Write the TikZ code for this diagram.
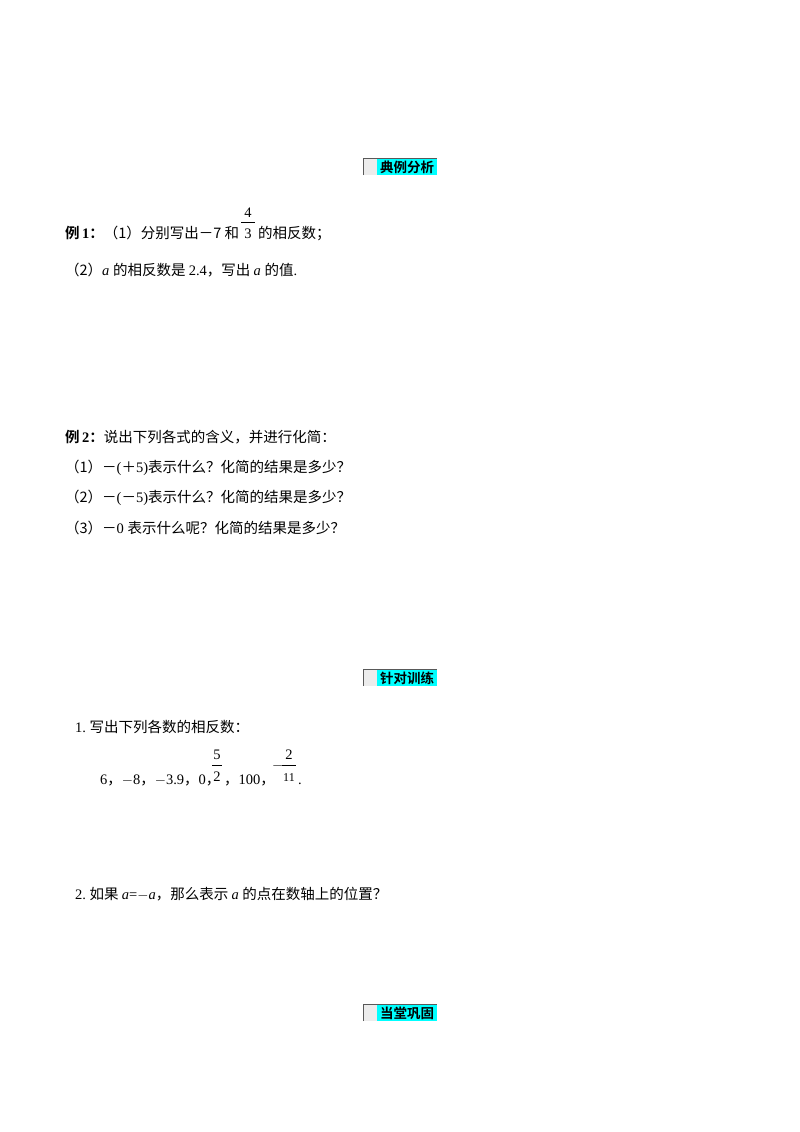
\documentclass[tikz,border=0pt]{standalone}
\usepackage{fontspec}
\setmainfont{Liberation Serif}
\newfontfamily\cjk{Noto Sans CJK SC}
\newfontfamily\cjkb{Noto Sans CJK SC Bold}
\definecolor{hcyan}{RGB}{0,255,255}
\begin{document}
\begin{tikzpicture}[x=1pt,y=-1pt,
  txt/.style={anchor=base west,inner sep=0pt,font=\fontsize{14.5}{16}\selectfont},
  fr/.style={anchor=base,inner sep=0pt,font=\fontsize{14.5}{16}\selectfont}]
\useasboundingbox (0,0) rectangle (800,1132);
\tikzset{hdr/.pic={
  \fill[gray!15] (0,0) rectangle (14,17);
  \fill[hcyan] (14,0) rectangle (74,17);
  \draw[gray!70!black,line width=0.8pt] (0,17) -- (0,0) -- (74,0);
}}
\foreach \y/\t [count=\i] in {158/典例分析,669/针对训练,1004/当堂巩固}{
  \pic at (363,\y) {hdr};
  \node[anchor=center,inner sep=0pt,font=\cjkb\fontsize{13.5}{14}\selectfont] (h\i) at (407,\y+9) {\t};
}
\node[txt] (e1) at (65,238) {{\cjkb 例\,}{\bfseries 1}{\cjkb：}\cjk（1）分别写出－7 和};
\node[fr] (n4) at (248,217) {4};
\draw (241,222) -- (255,222);
\node[fr] (d3) at (248,238) {3};
\node[txt] (e1b) at (258,238) {\cjk 的相反数；};
\node[txt] (e2) at (65,275) {\cjk（2）\rmfamily\itshape a \cjk\upshape 的相反数是 \rmfamily 2.4\cjk，写出 \rmfamily\itshape a \cjk\upshape 的值\rmfamily.};
\node[txt] (f0) at (65,442) {{\cjkb 例\,}{\bfseries 2}{\cjkb：}\cjk 说出下列各式的含义，并进行化简：};
\node[txt] (f1) at (65,472) {\cjk（1）－\rmfamily(\cjk＋\rmfamily5)\cjk 表示什么？化简的结果是多少？};
\node[txt] (f2) at (65,502) {\cjk（2）－\rmfamily(\cjk－\rmfamily5)\cjk 表示什么？化简的结果是多少？};
\node[txt] (f3) at (65,533) {\cjk（3）－\rmfamily0 \cjk 表示什么呢？化简的结果是多少？};
\node[txt] (g1) at (75,732) {1.\ \cjk 写出下列各数的相反数：};
\node[txt] (g2) at (100,784) {6\cjk，\rmfamily$-$8\cjk，\rmfamily$-$3.9\cjk，\rmfamily0\cjk，};
\node[fr] (n5) at (217,759) {5};
\draw (212,765) -- (222,765);
\node[fr] (d2) at (217,781) {2};
\node[txt] (g3) at (224,784) {\cjk，\rmfamily100\cjk，};
\node[txt] (mn) at (272,769) {$-$};
\node[fr] (n2) at (289,759) {2};
\draw (282,765) -- (296,765);
\node[fr] (d11) at (289,781) {\fontsize{12}{12}\selectfont 11};
\node[txt] (dot) at (298,784) {.};
\node[txt] (g4) at (75,899) {2.\ \cjk 如果 \rmfamily\itshape a\upshape=$-$\itshape a\cjk\upshape，那么表示 \rmfamily\itshape a \cjk\upshape 的点在数轴上的位置？};
\end{tikzpicture}
\end{document}
